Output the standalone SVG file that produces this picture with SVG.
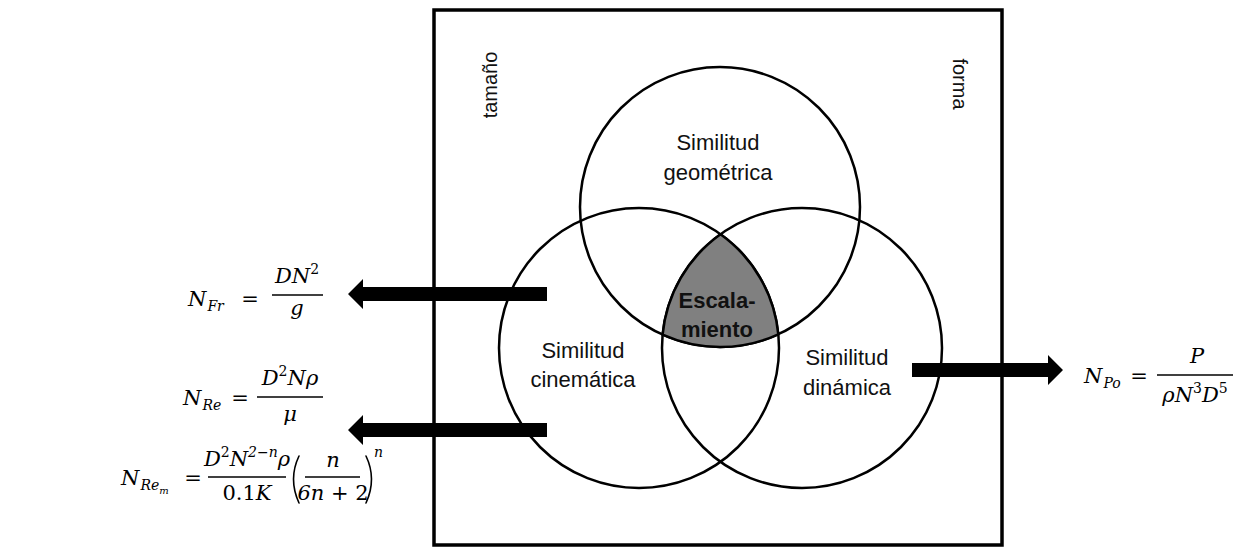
<svg xmlns="http://www.w3.org/2000/svg" width="1245" height="550" viewBox="0 0 1245 550">
  <style>
    .frame { fill: none; stroke: #000; stroke-width: 3.5; }
    .ring { fill: none; stroke: #000; stroke-width: 2.5; }
    .core { fill: #808080; stroke: #000; stroke-width: 2.5; stroke-linejoin: round; }
    .lbl { font-family: "Liberation Sans", Arial, sans-serif; font-size: 22px; fill: #111; text-anchor: middle; }
    .bold { font-weight: bold; }
    .side { font-family: "Liberation Sans", Arial, sans-serif; font-size: 20px; fill: #111; text-anchor: middle; }
    .m { font-family: "DejaVu Serif", "Liberation Serif", serif; font-style: italic; font-size: 21px; fill: #000; }
    .up { font-style: normal; }
    .s { font-size: 14px; }
    .bar { stroke: #000; stroke-width: 1.3; }
    .paren { fill: none; stroke: #000; stroke-width: 1.6; stroke-linecap: round; }
    .arrow { fill: #000; }
  </style>

  <!-- outer frame -->
  <rect class="frame" x="434" y="10" width="568" height="535"/>

  <!-- side labels -->
  <text class="side" transform="translate(497 85) rotate(-90)">tamaño</text>
  <text class="side" transform="translate(953 84) rotate(90)">forma</text>

  <!-- three overlapping similarity sets -->
  <g id="geometrica">
    <circle class="ring" cx="720" cy="207" r="140"/>
    <text class="lbl" x="718" y="150">Similitud</text>
    <text class="lbl" x="718" y="180">geométrica</text>
  </g>
  <g id="cinematica">
    <circle class="ring" cx="639" cy="348" r="140"/>
    <text class="lbl" x="583" y="358">Similitud</text>
    <text class="lbl" x="583" y="387">cinemática</text>
  </g>
  <g id="dinamica">
    <circle class="ring" cx="802" cy="348" r="140"/>
    <text class="lbl" x="847" y="365">Similitud</text>
    <text class="lbl" x="847" y="395">dinámica</text>
  </g>
  <g id="escalamiento">
    <path class="core" d="M720.5 234.2 A140 140 0 0 0 662.6 334.7 A140 140 0 0 0 778.3 334.3 A140 140 0 0 0 720.5 234.2 Z"/>
    <text class="lbl bold" x="717" y="308">Escala-</text>
    <text class="lbl bold" x="717" y="337">miento</text>
  </g>

  <!-- block arrows -->
  <g id="connectors">
    <polygon class="arrow" points="547,287 363,287 363,279 348,294 363,309 363,301 547,301"/>
    <polygon class="arrow" points="547,423 363,423 363,415 348,430 363,445 363,437 547,437"/>
    <polygon class="arrow" points="912,363 1048,363 1048,355 1063,370 1048,385 1048,377 912,377"/>
  </g>

  <!-- Froude number -->
  <g id="froude">
    <text class="m" x="188" y="306">N<tspan class="s" dy="5" dx="1">Fr</tspan></text>
    <text class="m up" x="250" y="306" text-anchor="middle">=</text>
    <text class="m" x="297" y="283" text-anchor="middle">DN<tspan class="s up" dy="-9">2</tspan></text>
    <line class="bar" x1="272" y1="295" x2="323" y2="295"/>
    <text class="m" x="297" y="315" text-anchor="middle">g</text>
  </g>

  <!-- Reynolds number -->
  <g id="reynolds">
    <text class="m" x="183" y="405">N<tspan class="s" dy="5" dx="1">Re</tspan></text>
    <text class="m up" x="240" y="405" text-anchor="middle">=</text>
    <text class="m" x="290" y="385" text-anchor="middle">D<tspan class="s up" dy="-9">2</tspan><tspan dy="9">Nρ</tspan></text>
    <line class="bar" x1="257" y1="397" x2="323" y2="397"/>
    <text class="m" x="290" y="421" text-anchor="middle">μ</text>
  </g>

  <!-- Reynolds number, power-law fluid -->
  <g id="reynolds-m">
    <text class="m" x="121" y="485">N<tspan class="s" dy="5" dx="1">Re</tspan><tspan font-size="10" dy="4">m</tspan></text>
    <text class="m up" x="193" y="485" text-anchor="middle">=</text>
    <text class="m" x="247" y="466" text-anchor="middle">D<tspan class="s up" dy="-9">2</tspan><tspan dy="9">N</tspan><tspan class="s" dy="-9">2−n</tspan><tspan dy="9">ρ</tspan></text>
    <line class="bar" x1="208" y1="477" x2="286" y2="477"/>
    <text class="m up" x="247" y="500" text-anchor="middle">0.1<tspan font-style="italic">K</tspan></text>
    <path class="paren" d="M299 456 Q288 479 299 503"/>
    <text class="m" x="333" y="467" text-anchor="middle">n</text>
    <line class="bar" x1="305" y1="477" x2="360" y2="477"/>
    <text class="m" x="333" y="500" text-anchor="middle">6n<tspan class="up"> + 2</tspan></text>
    <path class="paren" d="M366 456 Q377 479 366 503"/>
    <text class="m s" x="374" y="457">n</text>
  </g>

  <!-- Power number -->
  <g id="power">
    <text class="m" x="1084" y="383">N<tspan class="s" dy="5" dx="1">Po</tspan></text>
    <text class="m up" x="1139" y="383" text-anchor="middle">=</text>
    <text class="m" x="1197" y="363" text-anchor="middle">P</text>
    <line class="bar" x1="1157" y1="375" x2="1233" y2="375"/>
    <text class="m" x="1195" y="402" text-anchor="middle">ρN<tspan class="s up" dy="-9">3</tspan><tspan dy="9">D</tspan><tspan class="s up" dy="-9">5</tspan></text>
  </g>
</svg>
